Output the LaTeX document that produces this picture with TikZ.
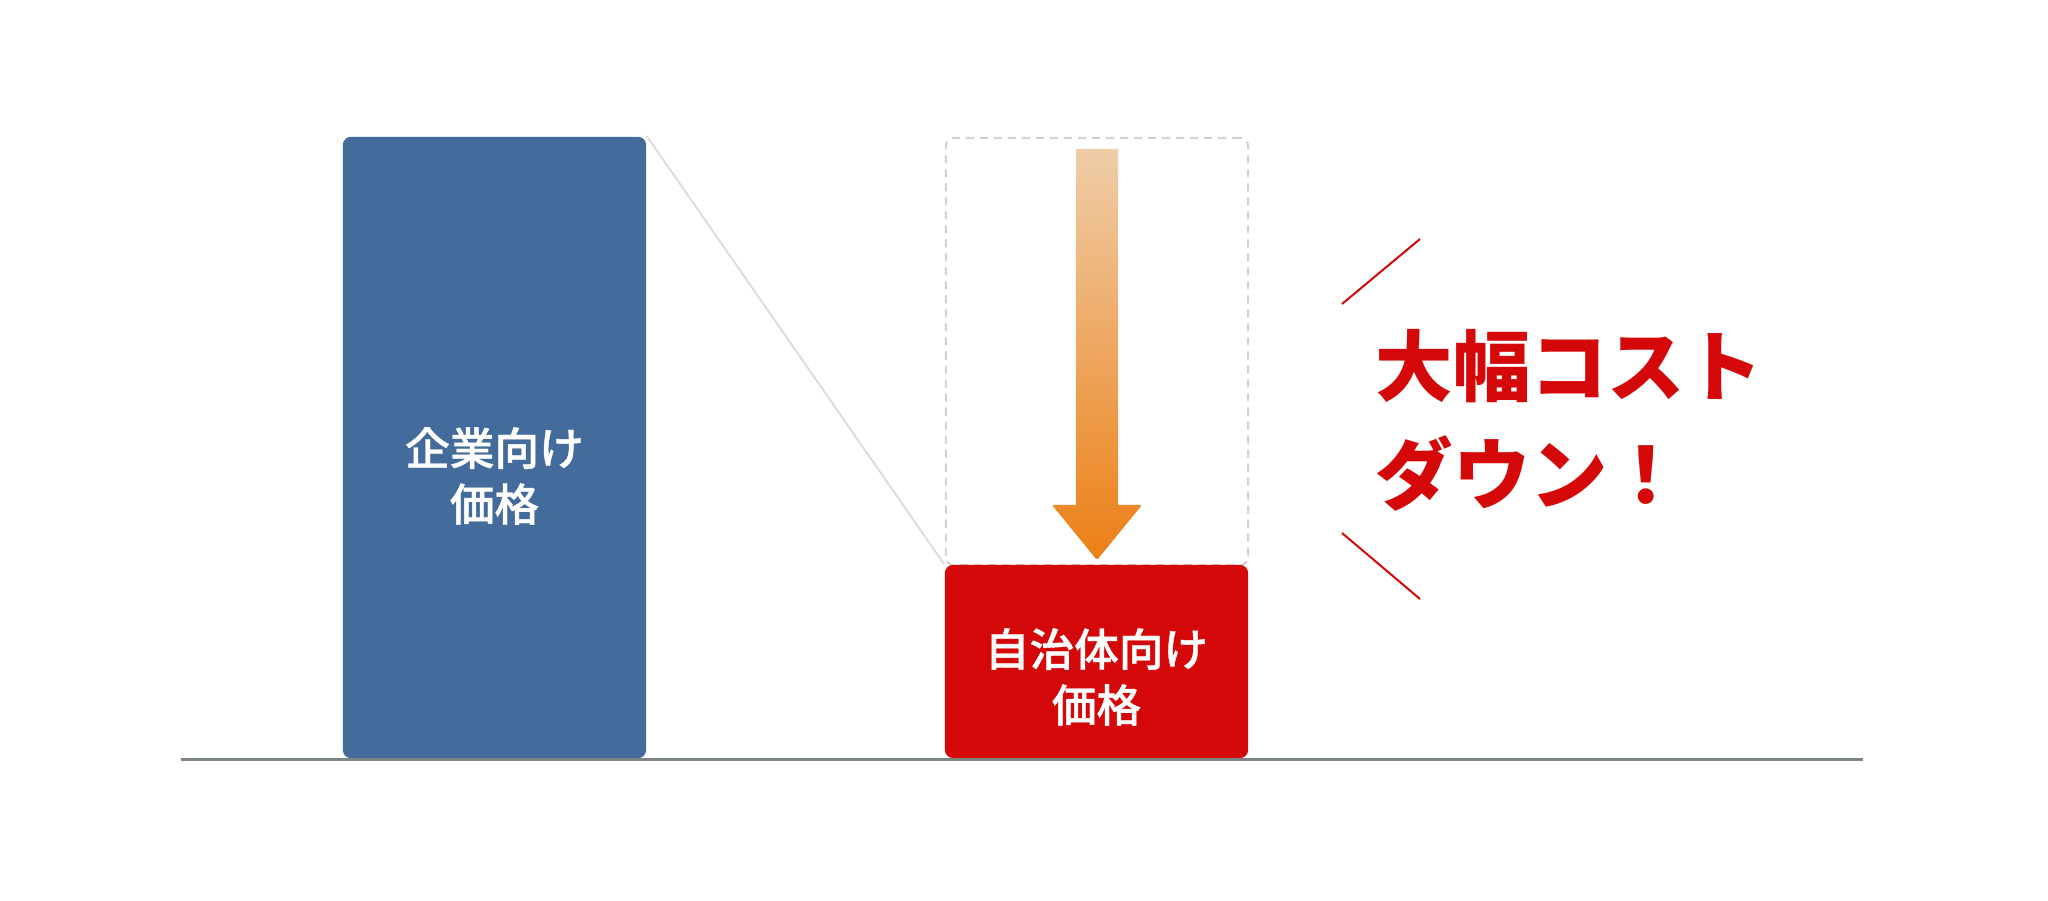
\documentclass[tikz,border=0pt]{standalone}
\usepackage{fontspec}
\newfontfamily\jpfont{Noto Sans CJK JP}
\newfontfamily\jpmed{Noto Sans CJK JP Medium}[FakeBold=0.8]
\definecolor{corpblue}{HTML}{436C9C}
\definecolor{downred}{HTML}{D40808}
\definecolor{floorgray}{HTML}{7C8785}
\definecolor{guidegray}{HTML}{DDDDDD}
\definecolor{arrowtop}{HTML}{EFCDA8}
\definecolor{arrowbot}{HTML}{EC7F15}
\tikzset{
	bar/.style={rounded corners=0.08cm, minimum width=3.03cm, inner sep=0pt},
	bartxt/.style={text=white, align=center, inner sep=0pt, font=\jpmed\fontsize{12.7}{15.9}\selectfont},
	bigtxt/.style={text=downred, inner sep=0pt, anchor=base west, font=\jpfont\bfseries\fontsize{22}{30}\selectfont}
}
\begin{document}
\begin{tikzpicture}[x=0.01cm,y=-0.01cm]
		\useasboundingbox (0,0) rectangle (2048,901);
		\node[bar, fill=corpblue, minimum height=6.21cm](A) at (494.5,447.5) {};
		\node[bartxt](AT) at (494.5,476) {企業向け\\価格};
		\node[bar, draw=black!18, dash pattern=on 0.08cm off 0.06cm, line width=0.02cm, minimum width=3.02cm, minimum height=4.27cm](D) at (1097,351.5) {};
		\node[bar, fill=downred, minimum height=1.93cm](B) at (1096.5,661.5) {};
		\node[bartxt](BT) at (1096.5,677) {自治体向け\\価格};
		\draw[guidegray, line width=0.02cm] (A.north east) -- (B.north west);
		\draw[floorgray, line width=0.027cm] (181,759.5) -- (1863,759.5);
		% down arrow
		\shade[top color=arrowtop, bottom color=arrowbot] (1076,149) -- (1118,149) -- (1118,505) [rounded corners=0.02cm] -- (1142,505) -- (1097,560) -- (1052,505) [sharp corners] -- (1076,505) -- cycle;
		\draw[downred, line width=0.02cm] (1342,304) -- (1420,239);
		\draw[downred, line width=0.02cm] (1342,533) -- (1420,599);
		\node[bigtxt](C1) at (1375,395.5) {大幅コスト};
		\node[bigtxt](C2) at (1375,503.5) {ダウン！};
\end{tikzpicture}
\end{document}
